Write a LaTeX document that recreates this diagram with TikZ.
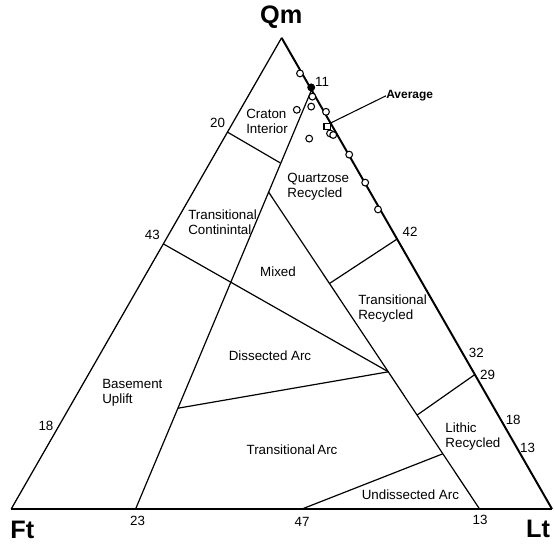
\documentclass[tikz,border=0pt]{standalone}
\usepackage{fontspec}
\setmainfont{Liberation Sans}
\begin{document}
\begin{tikzpicture}[
    field/.style={align=left, anchor=west, inner sep=0pt, font=\fontsize{9.5}{10.7}\selectfont},
    fieldc/.style={align=center, inner sep=0pt, font=\fontsize{9.5}{10.7}\selectfont},
    num/.style={inner sep=0pt, font=\fontsize{9.5}{10}\selectfont},
    pole/.style={inner sep=0pt, font=\fontsize{18}{20}\selectfont\bfseries},
    edge/.style={line width=0.9pt},
    bound/.style={line width=0.85pt},
    pt/.style={circle, draw, line width=0.75pt, inner sep=0pt, minimum size=1.7mm, fill=white,
        path picture={\fill (path picture bounding box.center) circle (0.3mm);}},
    ptdark/.style={pt, fill=black},
    avgbox/.style={rectangle, draw, line width=0.8pt, inner sep=0pt, minimum size=1.6mm, fill=white}
]
\useasboundingbox (0,0) rectangle (13.85,13.675);

% Corners
\coordinate (qm) at (7.04,12.73);
\coordinate (ft) at (0.28,0.95);
\coordinate (lt) at (13.80,0.95);

% Points on the edges
\coordinate (lft20) at (5.69,10.37);
\coordinate (lft43) at (4.08,7.58);
\coordinate (rt11) at (7.79,11.43);
\coordinate (rt42) at (9.93,7.70);
\coordinate (rt29) at (11.87,4.31);
\coordinate (bot23) at (3.39,0.95);
\coordinate (bot47) at (7.55,0.95);
\coordinate (bot13) at (11.99,0.95);

% Inner corners
\coordinate (craton) at (7.01,9.60);
\coordinate (quartz) at (6.71,8.88);
\coordinate (dissect) at (4.45,3.47);
\coordinate (transrec) at (8.24,6.59);
\coordinate (arcjoin) at (9.71,4.38);
\coordinate (lithic) at (10.43,3.30);
\coordinate (undis) at (11.07,2.33);

% Triangle
\draw[edge] (ft) -- (qm);
\draw[line width=1.4pt] (qm) -- (lt);
\draw[line width=1pt] (ft) -- (lt);

% Field boundaries
\draw[bound] (rt11) -- (bot23);
\draw[bound] (lft20) -- (craton);
\draw[bound] (quartz) -- (bot13);
\draw[bound] (rt42) -- (transrec);
\draw[bound] (rt29) -- (lithic);
\draw[bound] (lft43) -- (arcjoin);
\draw[bound] (arcjoin) -- (dissect);
\draw[bound] (bot47) -- (undis);

% Poles
\node[pole] (qmlab) at (7.03,13.24) {Qm};
\node[pole] (ftlab) at (0.56,0.43) {Ft};
\node[pole] (ltlab) at (13.45,0.45) {Lt};

% Tick values
\node[num] (n20) at (5.44,10.60) {20};
\node[num] (n43) at (3.81,7.80) {43};
\node[num] (n18a) at (1.15,3.03) {18};
\node[num] (n11) at (8.05,11.63) {11};
\node[num] (n42) at (10.25,7.88) {42};
\node[num] (n32) at (11.91,4.85) {32};
\node[num] (n29) at (12.19,4.30) {29};
\node[num] (n18b) at (12.83,3.18) {18};
\node[num] (n13a) at (13.19,2.48) {13};
\node[num] (n23) at (3.44,0.65) {23};
\node[num] (n47) at (7.55,0.63) {47};
\node[num] (n13b) at (12.00,0.68) {13};

% Field names
\node[field] (fcraton) at (6.15,10.63) {Craton\\Interior};
\node[field] (fquartz) at (7.18,9.00) {Quartzose\\Recycled};
\node[field] (ftranscon) at (4.70,8.11) {Transitional\\Continintal};
\node[fieldc] (fmixed) at (6.95,6.88) {Mixed};
\node[field] (ftransrec) at (8.95,5.95) {Transitional\\Recycled};
\node[fieldc] (fdissect) at (6.75,4.78) {Dissected Arc};
\node[field] (fbasement) at (2.55,3.85) {Basement\\Uplift};
\node[fieldc] (ftransarc) at (7.30,2.43) {Transitional\,Arc};
\node[field] (flithic) at (11.13,2.76) {Lithic\\Recycled};
\node[fieldc] (fundis) at (10.26,1.30) {Undissected Arc};

% Samples
\node[pt] (s1) at (7.50,11.84) {};
\node[ptdark] (s2) at (7.78,11.49) {};
\node[pt] (s3) at (7.81,11.26) {};
\node[pt] (s4) at (7.42,10.93) {};
\node[pt] (s5) at (7.78,11.01) {};
\node[pt] (s6) at (8.15,10.88) {};
\node[pt] (s7) at (8.25,10.34) {};
\node[pt] (s8) at (8.33,10.30) {};
\node[pt] (s9) at (7.73,10.21) {};
\node[pt] (s10) at (8.73,9.81) {};
\node[pt] (s11) at (9.13,9.11) {};
\node[pt] (s12) at (9.45,8.44) {};

% Average
\node[avgbox] (avg) at (8.18,10.51) {};
\node[anchor=west, inner sep=0pt, font=\fontsize{8.5}{9}\selectfont\bfseries] (avglab) at (9.65,11.28) {Average};
\draw[line width=0.75pt] (avg.north east) -- (avglab.west);

\end{tikzpicture}
\end{document}
